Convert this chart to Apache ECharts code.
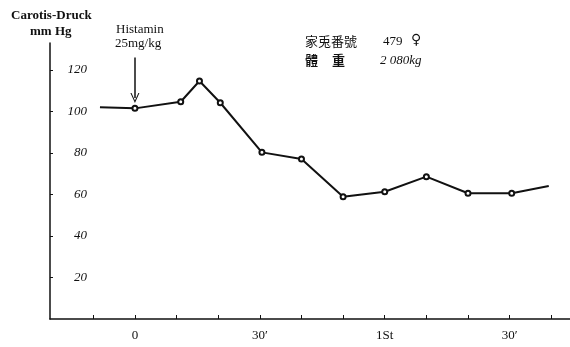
<!DOCTYPE html>
<html>
<head>
<meta charset="utf-8">
<script src="https://cdn.jsdelivr.net/npm/echarts@6/dist/echarts.min.js"></script>
<style>
  html, body { margin: 0; padding: 0; background: #fff; }
  #chart { width: 570px; height: 347px; }
</style>
</head>
<body>
<div id="chart"></div>
<script>
// Carotid blood pressure (mmHg) after histamine 25 mg/kg, time in minutes
const minutes  = [-8.4, 0, 11, 15.5, 20.5, 30.5, 40, 50, 60, 70, 80, 90.5, 99.4];
const pressure = [102, 101.5, 104.7, 114.7, 104.2, 80.3, 77.1, 58.9, 61.3, 68.6, 60.6, 60.6, 64.1];

// x axis: tick every 10 min, labelled at 0, 30', 1 hour, 30'
const xTickValues  = [-10, 0, 10, 20, 30, 40, 50, 60, 70, 80, 90, 100];
const xLabelValues = [0, 30, 60, 90];
const xLabelTexts  = ['0', '30\u2032', '1St', '30\u2032'];

// y axis ticks
const yTickValues = [20, 40, 60, 80, 100, 120];

// injection moment and arrow span (mmHg)
const injectionTime = 0;
const arrowFrom = 126;
const arrowTo = 106.5;

const serif = '"Liberation Serif", "DejaVu Serif", serif';
const ink = '#111';

const seriesData = minutes.map((t, i) => {
  const item = { value: [t, pressure[i]] };
  if (i === 0 || i === minutes.length - 1) item.symbol = 'none';
  return item;
});

const chart = echarts.init(document.getElementById('chart'), null, { renderer: 'canvas' });

chart.setOption({
  animation: false,
  backgroundColor: '#fff',
  grid: { left: 50, right: 0, top: 43, bottom: 28 },
  xAxis: {
    type: 'value',
    min: -20.4,
    max: 104.5,
    splitLine: { show: false },
    axisLine: { onZero: false, lineStyle: { color: ink, width: 1.5 } },
    axisTick: { inside: true, length: 4, customValues: xTickValues, lineStyle: { color: ink, width: 1 } },
    axisLabel: {
      customValues: xLabelValues,
      margin: 10,
      color: ink,
      fontFamily: serif,
      fontSize: 13,
      formatter: v => xLabelTexts[xLabelValues.indexOf(v)] ?? ''
    }
  },
  yAxis: {
    type: 'value',
    min: 0,
    max: 133,
    splitLine: { show: false },
    axisLine: { onZero: false, lineStyle: { color: ink, width: 1.5 } },
    axisTick: { inside: true, length: 3, customValues: yTickValues, lineStyle: { color: ink, width: 1 } },
    axisLabel: {
      inside: true,
      customValues: yTickValues,
      margin: 37,
      align: 'right',
      color: ink,
      fontFamily: serif,
      fontStyle: 'italic',
      fontSize: 13
    }
  },
  series: [{
    type: 'line',
    data: seriesData,
    symbol: 'emptyCircle',
    symbolSize: 5,
    lineStyle: { color: ink, width: 2 },
    itemStyle: { color: ink, borderColor: ink, borderWidth: 1.5 },
    markLine: {
      silent: true,
      label: { show: false },
      lineStyle: { color: ink, width: 1.5, type: 'solid' },
      symbolSize: [9, 10],
      data: [[
        { coord: [injectionTime, arrowFrom], symbol: 'none' },
        { coord: [injectionTime, arrowTo], symbol: 'path://M0,10 L5,0 L10,10 L8.8,10 L5,2.4 L1.2,10 Z' }
      ]]
    }
  }],
  graphic: [
    { type: 'text', left: 11, top: 9, style: { text: 'Carotis-Druck', font: 'bold 13px ' + serif, fill: ink } },
    { type: 'text', left: 30, top: 25, style: { text: 'mm Hg', font: 'bold 13px ' + serif, fill: ink } },
    { type: 'text', left: 116, top: 23, style: { text: 'Histamin', font: '13px ' + serif, fill: ink } },
    { type: 'text', left: 115, top: 37, style: { text: '25mg/kg', font: '13px ' + serif, fill: ink } },
    { type: 'text', left: 305, top: 35, style: { text: '家兎番號', font: '13px "Noto Sans CJK JP"', fill: ink } },
    { type: 'text', left: 383, top: 35, style: { text: '479', font: '13px ' + serif, fill: ink } },
    { type: 'text', left: 411, top: 33, style: { text: '♀', font: '14px "DejaVu Sans"', fill: ink } },
    { type: 'text', left: 305, top: 54, style: { text: '體', font: 'bold 13px "Noto Sans CJK JP"', fill: ink } },
    { type: 'text', left: 332, top: 54, style: { text: '重', font: 'bold 13px "Noto Sans CJK JP"', fill: ink } },
    { type: 'text', left: 380, top: 54, style: { text: '2 080kg', font: 'italic 13px ' + serif, fill: ink } }
  ]
});
</script>
</body>
</html>
